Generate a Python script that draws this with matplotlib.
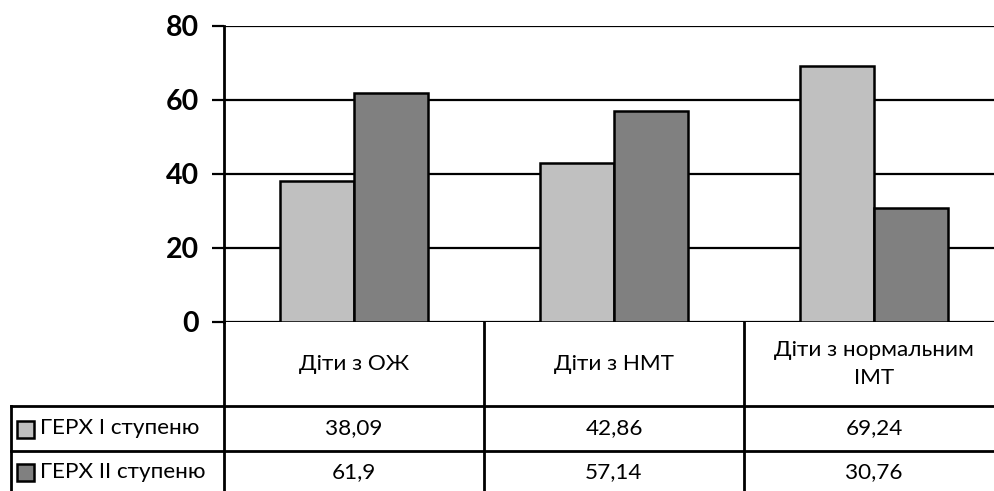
import matplotlib
matplotlib.use("Agg")
import matplotlib.pyplot as plt
from matplotlib.patches import Rectangle
from matplotlib.lines import Line2D

plt.rcParams['font.family'] = ['Lato', 'Open Sans', 'DejaVu Sans']

categories = ["Діти з ОЖ", "Діти з НМТ", "Діти з нормальним\nІМТ"]
series_names = ["ГЕРХ І ступеню", "ГЕРХ ІІ ступеню"]
grade1 = [38.09, 42.86, 69.24]
grade2 = [61.9, 57.14, 30.76]
series_values = [grade1, grade2]
series_colors = ["#c0c0c0", "#808080"]
yticks = [0, 20, 40, 60, 80]

W, H = 994, 491
fig = plt.figure(figsize=(W / 100, H / 100), dpi=100)

# plot area in pixel units
ax_left, ax_top, ax_bottom, cat_w = 224, 26, 322, 260
n = len(categories)
ax = fig.add_axes([ax_left / W, 1 - ax_bottom / H,
                   n * cat_w / W, (ax_bottom - ax_top) / H])
ax.set_xlim(-0.5, n - 0.5)
ax.set_ylim(0, 80)

bar_w = 0.283
xs = list(range(n))
for k, (vals, col) in enumerate(zip(series_values, series_colors)):
    offs = (k - 0.5) * bar_w
    ax.bar([x + offs for x in xs], vals, width=bar_w, color=col,
           edgecolor="black", linewidth=1.8, zorder=3)

ax.set_yticks(yticks)
ax.set_yticklabels([str(t) for t in yticks], fontsize=20.5, fontweight='bold')
ax.yaxis.grid(True, color="black", linewidth=1.6, zorder=0)
ax.set_xticks([])
for s in ["top", "right", "bottom"]:
    ax.spines[s].set_visible(False)
ax.spines["left"].set_linewidth(2.0)
ax.tick_params(axis="y", length=9, width=1.6, pad=9, colors="black")

# data table below the plot, drawn in pixel coordinates
ov = fig.add_axes([0, 0, 1, 1], zorder=5)
ov.set_xlim(0, W)
ov.set_ylim(H, 0)
ov.axis("off")
ov.patch.set_alpha(0)

row_tops = [ax_bottom, 406, 451, 496]
col_edges = [ax_left + i * cat_w for i in range(n + 1)]
tab_left = 11
lw = 2.0

def hline(y, x0, x1):
    ov.add_line(Line2D([x0, x1], [y, y], color="black", lw=lw))

def vline(x, y0, y1):
    ov.add_line(Line2D([x, x], [y0, y1], color="black", lw=lw))

hline(row_tops[1], tab_left, col_edges[-1])
hline(row_tops[2], tab_left, col_edges[-1])
for x in col_edges[:-1]:
    vline(x, row_tops[0], row_tops[-1])
vline(tab_left, row_tops[1], row_tops[-1])

fs = 16.2
for i, cat in enumerate(categories):
    cx = (col_edges[i] + col_edges[i + 1]) / 2
    cy = (row_tops[0] + row_tops[1]) / 2
    ov.text(cx, cy, cat, ha="center", va="center", fontsize=fs,
            linespacing=1.45)

for r, (name, vals, col) in enumerate(zip(series_names, series_values, series_colors)):
    cy = (row_tops[r + 1] + row_tops[r + 2]) / 2
    if r == 1:
        cy = row_tops[2] + 21
    ov.add_patch(Rectangle((17, cy - 8), 17, 17, facecolor=col,
                           edgecolor="black", lw=1.8))
    ov.text(40, cy, name, ha="left", va="center", fontsize=fs)
    for i, v in enumerate(vals):
        cx = (col_edges[i] + col_edges[i + 1]) / 2
        ov.text(cx, cy, f"{v:g}".replace(".", ","), ha="center",
                va="center", fontsize=fs)

fig.savefig("out.png", dpi=100)
